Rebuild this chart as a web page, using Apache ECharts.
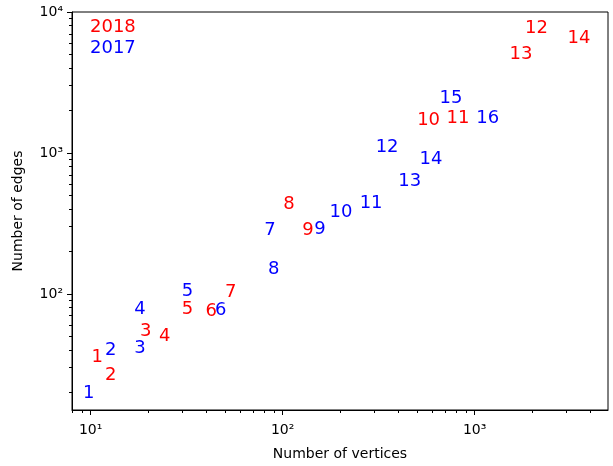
<!DOCTYPE html>
<html>
<head>
<meta charset="utf-8">
<script src="https://cdn.jsdelivr.net/npm/echarts@6/dist/echarts.min.js"></script>
<style>
  html, body { margin: 0; padding: 0; background: #fff; }
  #chart { width: 613px; height: 466px; }
</style>
</head>
<body>
<div id="chart"></div>
<script>
// 2018 labels (red)
const names2018 = ['1', '2', '3', '4', '5', '6', '7', '8', '9', '10', '11', '12', '13', '14']
const verts2018 = [10.1, 11.9, 18.1, 22.7, 29.8, 39.7, 50.1, 100.7, 126.5, 502, 714, 1828, 1521, 3048]
const edges2018 = [32.0, 24.0, 48.9, 45.6, 70.3, 67.7, 93.2, 394, 256, 1547, 1608, 6991, 4505, 5910]
// 2017 labels (blue)
const names2017 = ['1', '2', '3', '4', '5', '6', '7', '8', '9', '10', '11', '12', '13', '14', '15', '16']
const verts2017 = [9.12, 11.9, 16.9, 16.9, 29.8, 44.4, 80.2, 83.8, 146.1, 175.7, 251.8, 305.1, 400, 517, 657, 1019]
const edges2017 = [17.9, 36.3, 37.1, 70.3, 94.8, 69.6, 256, 136.2, 261.2, 342.8, 398.7, 992, 567.5, 820, 2202, 1608]

const xMajor = [10, 100, 1000]
const xMinor = [8, 9, 20, 30, 40, 50, 60, 70, 80, 90, 200, 300, 400, 500, 600, 700, 800, 900, 2000, 3000, 4000]
const yMajor = [100, 1000, 10000]
const yMinor = [20, 30, 40, 50, 60, 70, 80, 90, 200, 300, 400, 500, 600, 700, 800, 900, 2000, 3000, 4000, 5000, 6000, 7000, 8000, 9000]

const sup = { '1': '\u00b9', '2': '\u00b2', '3': '\u00b3', '4': '\u2074' }
function powLabel(v) {
  return '10' + sup[String(Math.round(Math.log10(v)))]
}

const xMin = 8, xMax = 4950, yMin = 15, yMax = 10000

function pts(xs, ys, ns) {
  return xs.map((x, i) => ({ value: [x, ys[i]], name: ns[i] }))
}

function labelSeries(name, color, data) {
  return {
    name: name,
    type: 'scatter',
    xAxisIndex: 0,
    yAxisIndex: 0,
    symbolSize: 1,
    itemStyle: { color: 'transparent', opacity: 1 },
    label: {
      show: true,
      position: 'inside',
      align: 'left',
      verticalAlign: 'bottom',
      offset: [0, 3],
      color: color,
      opacity: 1,
      fontSize: 18,
      fontFamily: 'DejaVu Sans',
      formatter: p => p.name
    },
    emphasis: { disabled: true },
    data: data
  }
}

const chart = echarts.init(document.getElementById('chart'))
chart.setOption({
  animation: false,
  backgroundColor: '#fff',
  grid: {
    left: 72, top: 12, right: 5, bottom: 55,
    show: true, borderColor: '#000', borderWidth: 1, backgroundColor: 'transparent'
  },
  xAxis: [
    {
      type: 'log', min: xMin, max: xMax, position: 'bottom',
      name: 'Number of vertices', nameLocation: 'middle', nameGap: 37,
      nameTextStyle: { color: '#000', fontSize: 14, fontFamily: 'DejaVu Sans' },
      axisLine: { lineStyle: { color: '#000', width: 1 } },
      axisTick: { length: 5, lineStyle: { color: '#000' }, customValues: xMajor },
      axisLabel: { color: '#000', fontSize: 14, fontFamily: 'DejaVu Sans', margin: 13, customValues: xMajor, formatter: powLabel },
      splitLine: { show: false }
    },
    {
      type: 'log', min: xMin, max: xMax, position: 'bottom',
      axisLine: { show: false },
      axisTick: { length: 3, lineStyle: { color: '#000' }, customValues: xMinor },
      axisLabel: { show: false },
      splitLine: { show: false }
    }
  ],
  yAxis: [
    {
      type: 'log', min: yMin, max: yMax, position: 'left',
      name: 'Number of edges', nameLocation: 'middle', nameGap: 47,
      nameTextStyle: { color: '#000', fontSize: 14, fontFamily: 'DejaVu Sans' },
      axisLine: { lineStyle: { color: '#000', width: 1 } },
      axisTick: { length: 5, lineStyle: { color: '#000' }, customValues: yMajor },
      axisLabel: { color: '#000', fontSize: 14, fontFamily: 'DejaVu Sans', margin: 9, customValues: yMajor, formatter: powLabel },
      splitLine: { show: false }
    },
    {
      type: 'log', min: yMin, max: yMax, position: 'left',
      axisLine: { show: false },
      axisTick: { length: 3, lineStyle: { color: '#000' }, customValues: yMinor },
      axisLabel: { show: false },
      splitLine: { show: false }
    }
  ],
  graphic: [
    { type: 'text', left: 90, top: 18, style: { text: '2018', fill: '#ff0000', font: '18px "DejaVu Sans"' } },
    { type: 'text', left: 90, top: 39, style: { text: '2017', fill: '#0000ff', font: '18px "DejaVu Sans"' } }
  ],
  series: [
    labelSeries('2018', '#ff0000', pts(verts2018, edges2018, names2018)),
    labelSeries('2017', '#0000ff', pts(verts2017, edges2017, names2017))
  ]
})
</script>
</body>
</html>
